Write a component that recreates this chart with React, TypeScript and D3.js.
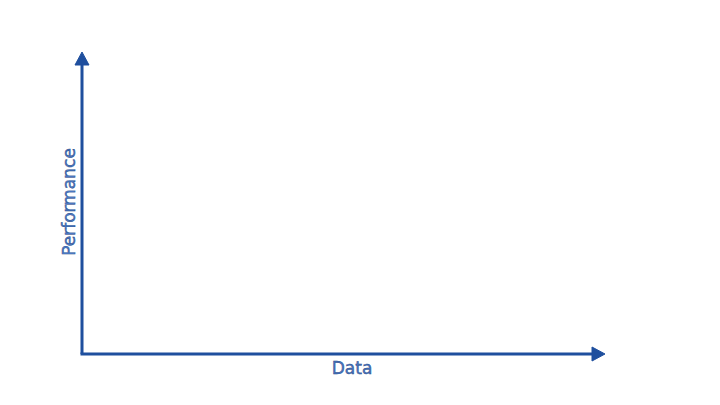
import React from "react";
import * as d3 from "d3";

const xLabel = "Data";
const yLabel = "Performance";
const xDomain: [number, number] = [0, 1];
const yDomain: [number, number] = [0, 1];

const W = 720;
const H = 405;
const left = 82;
const right = 605;
const top = 52;
const bottom = 354;
const stroke = "#1f4f9e";
const textFill = "#4a78c2";

export default function App() {
  const x = d3.scaleLinear().domain(xDomain).range([left, right]);
  const y = d3.scaleLinear().domain(yDomain).range([bottom, top]);
  const x0 = x(0), x1 = x(1), y0 = y(0), y1 = y(1);
  const ah = 13, aw = 7;
  return (
    <svg width={W} height={H} style={{ position: "absolute", left: 0, top: 0 }}>
      <line x1={x0} y1={y0} x2={x0} y2={y1 + ah - 1} stroke={stroke} strokeWidth={3} />
      <line x1={x0 - 1.5} y1={y0} x2={x1 - ah + 1} y2={y0} stroke={stroke} strokeWidth={3} />
      <path d={`M${x0},${y1} L${x0 - aw},${y1 + ah} L${x0 + aw},${y1 + ah} Z`} fill={stroke} stroke={stroke} strokeWidth={1} strokeLinejoin="round" />
      <path d={`M${x1},${y0} L${x1 - ah},${y0 - aw} L${x1 - ah},${y0 + aw} Z`} fill={stroke} stroke={stroke} strokeWidth={1} strokeLinejoin="round" />
      <text x={352} y={y0 + 20} textAnchor="middle" fontFamily="DejaVu Sans" fontSize={17} fill={textFill} stroke="#1c3f80" strokeWidth={0.4}>{xLabel}</text>
      <text transform={`translate(${x0 - 7},${202}) rotate(-90)`} textAnchor="middle" fontFamily="DejaVu Sans" fontSize={17} fill={textFill} stroke="#1c3f80" strokeWidth={0.4}>{yLabel}</text>
    </svg>
  );
}
